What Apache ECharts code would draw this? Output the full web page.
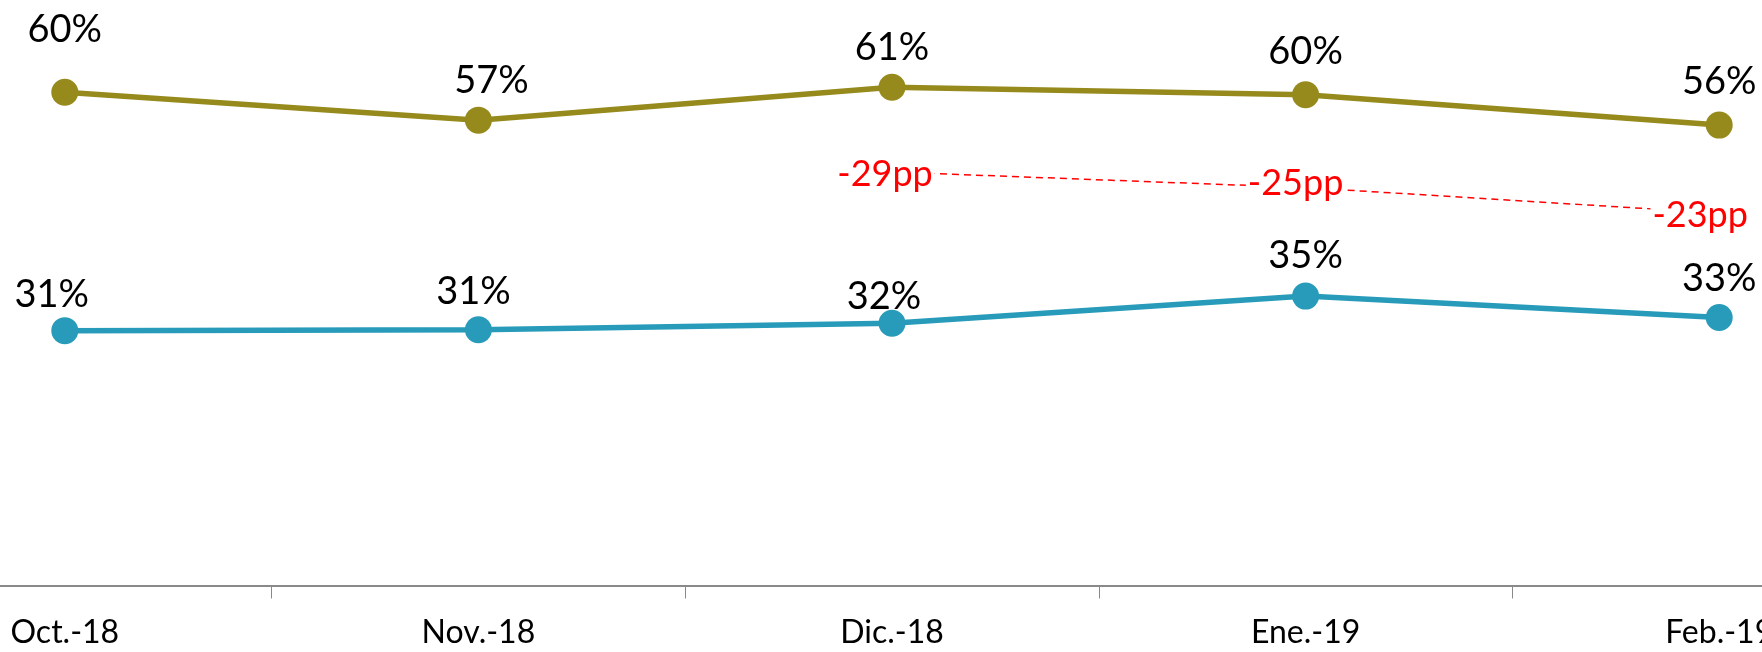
<!DOCTYPE html>
<html>
<head>
<meta charset="utf-8">
<script src="https://cdn.jsdelivr.net/npm/echarts@6/dist/echarts.min.js"></script>
<style>
html,body{margin:0;padding:0;background:#fff;}
#chart{width:1762px;height:652px;}
</style>
</head>
<body>
<div id="chart"></div>
<script>
// ---- data ----
const categories = ['Oct.-18', 'Nov.-18', 'Dic.-18', 'Ene.-19', 'Feb.-19'];
const seriesTop = [60.0, 56.6, 60.6, 59.7, 56.0];      // olive line
const seriesTopLabels = ['60%', '57%', '61%', '60%', '56%'];
const seriesBottom = [31.0, 31.1, 31.9, 35.2, 32.6];   // blue line
const seriesBottomLabels = ['31%', '31%', '32%', '35%', '33%'];
const gapLevel = [null, null, 50.3, 48.4, 45.3];       // annotation line level
const gapLabels = ['', '', '-29pp', '-25pp', '-23pp'];

// ---- layout tweaks (label nudges) ----
const topNudge = [[0, -62], [13, -39], [0, -40], [0, -43], [0, -43]];
const bottomNudge = [[-13, -36], [-5, -38], [-8, -26], [0, -40], [0, -39]];
const gapNudge = [[0, 0], [0, 0], [-7, 2], [-10, -4], [-19, 2]];

const OLIVE = '#968A1D';
const BLUE = '#279BB9';
const FONT = 'Lato';

function build(values, labels, nudges) {
  return values.map((v, i) => ({
    value: v,
    label: { formatter: labels[i], offset: nudges[i] }
  }));
}

const chart = echarts.init(document.getElementById('chart'), null, { renderer: 'canvas' });
chart.setOption({
  animation: false,
  backgroundColor: '#ffffff',
  grid: { left: -142, right: -164, top: 10, bottom: 66.5, containLabel: false, outerBoundsMode: 'none' },
  xAxis: {
    type: 'category',
    data: categories,
    boundaryGap: true,
    axisLine: { show: true, lineStyle: { color: '#898989', width: 2 } },
    axisTick: { show: true, length: 13, lineStyle: { color: '#898989', width: 1 } },
    axisLabel: { color: '#000', fontFamily: FONT, fontSize: 32, margin: 31, hideOverlap: false },
    splitLine: { show: false }
  },
  yAxis: {
    type: 'value', min: 0, max: 70, show: false,
    splitLine: { show: false }
  },
  series: [
    {
      type: 'line',
      data: build(seriesTop, seriesTopLabels, topNudge),
      symbol: 'circle', symbolSize: 27,
      itemStyle: { color: OLIVE },
      lineStyle: { color: OLIVE, width: 5.5 },
      label: { show: true, position: 'inside', color: '#000', fontFamily: FONT, fontSize: 38 },
      z: 3
    },
    {
      type: 'line',
      data: build(seriesBottom, seriesBottomLabels, bottomNudge),
      symbol: 'circle', symbolSize: 27,
      itemStyle: { color: BLUE },
      lineStyle: { color: BLUE, width: 5.5 },
      label: { show: true, position: 'inside', color: '#000', fontFamily: FONT, fontSize: 38 },
      z: 3
    },
    {
      type: 'line',
      data: build(gapLevel, gapLabels, gapNudge),
      symbol: 'circle', showSymbol: true, symbolSize: 1,
      connectNulls: false,
      itemStyle: { color: 'rgba(255,0,0,0)' },
      lineStyle: { color: '#FF0000', width: 1.5, type: [7, 5] },
      label: {
        show: true, position: 'inside', color: '#FF0000', fontFamily: FONT, fontSize: 36,
        backgroundColor: '#ffffff', padding: [0, 2]
      },
      z: 2
    }
  ]
});
</script>
</body>
</html>
